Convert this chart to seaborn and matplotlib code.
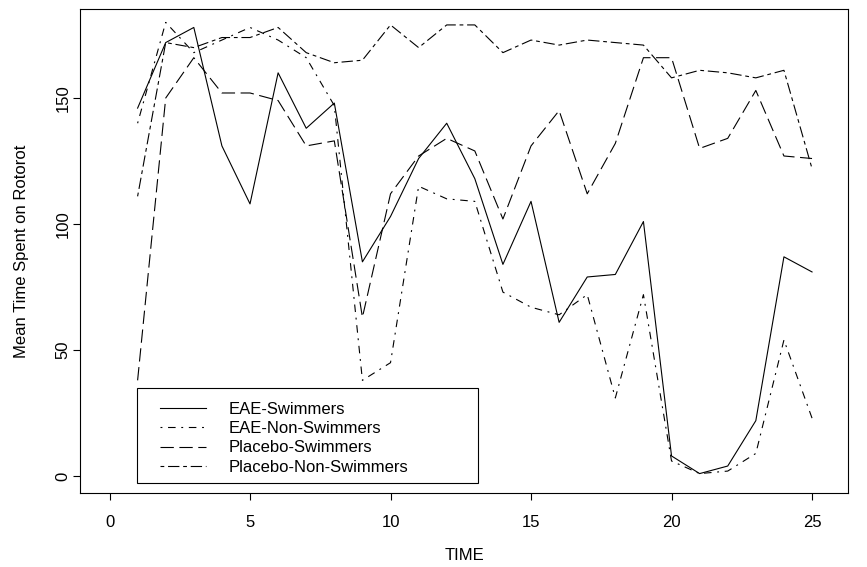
import matplotlib
matplotlib.use("Agg")
import matplotlib.pyplot as plt
import seaborn as sns
import pandas as pd
from matplotlib.patches import Rectangle

# ---- data ----
time = list(range(1, 26))
eae_swimmers = [146, 172, 178, 131, 108, 160, 138, 148, 85, 103, 126, 140, 118,
                84, 109, 61, 79, 80, 101, 8, 1, 4, 22, 87, 81]
eae_non_swimmers = [140, 180, 168, 173, 178, 173, 166, 147, 38, 45, 115, 110, 109,
                    73, 67, 64, 72, 31, 72, 6, 1, 2, 9, 54, 23]
placebo_swimmers = [38, 150, 166, 152, 152, 149, 131, 133, 63, 112, 127, 134, 129,
                    102, 131, 145, 112, 132, 166, 166, 130, 134, 153, 127, 126]
placebo_non_swimmers = [111, 172, 170, 174, 174, 178, 168, 164, 165, 179, 170, 179, 179,
                        168, 173, 171, 173, 172, 171, 158, 161, 160, 158, 161, 122]
groups = ["EAE-Swimmers", "EAE-Non-Swimmers", "Placebo-Swimmers", "Placebo-Non-Swimmers"]
x_ticks = [0, 5, 10, 15, 20, 25]
y_ticks = [0, 50, 100, 150]

series = [eae_swimmers, eae_non_swimmers, placebo_swimmers, placebo_non_swimmers]
df = pd.DataFrame({
    "TIME": time * 4,
    "value": sum(series, []),
    "group": sum([[g] * len(time) for g in groups], []),
})

plt.rcParams["font.family"] = ["Liberation Sans", "DejaVu Sans"]
FS = 12
LW = 0.8
dashes = {
    "EAE-Swimmers": "",
    "EAE-Non-Swimmers": (1.7, 5.1, 6.8, 5.1),
    "Placebo-Swimmers": (12, 5),
    "Placebo-Non-Swimmers": (3.4, 3.4, 10.2, 3.4),
}

W, H = 867, 567
fig = plt.figure(figsize=(W / 100, H / 100), dpi=100)
L, R, T, B = 80, 848, 9.3, 493
ax = fig.add_axes([L / W, 1 - B / H, (R - L) / W, (B - T) / H])

sns.lineplot(data=df, x="TIME", y="value", style="group", style_order=groups,
             dashes=dashes, color="black", linewidth=LW, legend=False, ax=ax,
             estimator=None, sort=False)

ax.set_xlim(-1.05, 26.28)
ax.set_ylim(-6.7, 185.2)
ax.set_xticks(x_ticks)
ax.set_yticks(y_ticks)
ax.set_yticklabels([str(v) for v in y_ticks], rotation=90, va="center")
ax.tick_params(axis="both", direction="out", length=5, width=0.8, labelsize=FS,
               color="black", labelcolor="black")
ax.tick_params(axis="x", pad=10.5)
ax.tick_params(axis="y", pad=2)
for s in ax.spines.values():
    s.set_linewidth(0.8)
    s.set_color("black")
ax.set_xlabel("TIME", fontsize=FS, labelpad=13)
ax.set_ylabel("Mean Time Spent on Rotorot", fontsize=FS, labelpad=19)


def axfx(px):
    return (px - L) / (R - L)


def axfy(py):
    return (B - py) / (B - T)


# legend box
ax.add_patch(Rectangle((axfx(137), axfy(483)), axfx(478) - axfx(137), axfy(388) - axfy(483),
                       transform=ax.transAxes, fill=False, edgecolor="black", linewidth=0.8,
                       zorder=5))
handles = ax.get_lines()[:4]
leg = ax.legend(handles, groups, loc="upper left", bbox_to_anchor=(axfx(160), axfy(402)),
                frameon=False, fontsize=FS, handlelength=2.75, handletextpad=1.38,
                labelspacing=0.25, borderpad=0, borderaxespad=0)

fig.savefig("out.png", dpi=100)
